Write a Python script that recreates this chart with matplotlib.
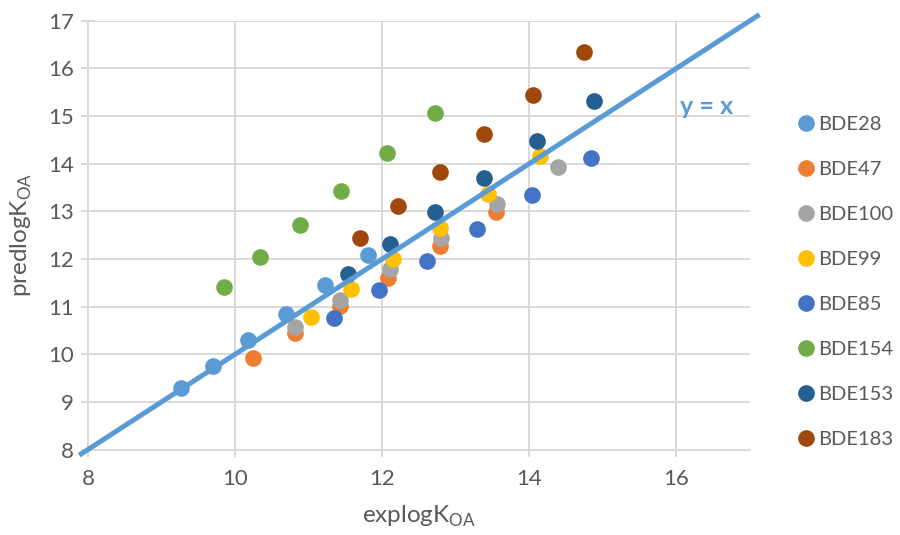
import matplotlib
matplotlib.use('Agg')
import matplotlib.pyplot as plt

plt.rcParams['font.family'] = ['Lato', 'DejaVu Sans']

# ==================== 数据 ====================
series_names = ['BDE28', 'BDE47', 'BDE100', 'BDE99', 'BDE85', 'BDE154', 'BDE153', 'BDE183']
series_colors = ['#5B9BD5', '#ED7D31', '#A5A5A5', '#FFC000', '#4472C4', '#70AD47', '#255E91', '#9E480E']

bde28_x = [9.27, 9.70, 10.18, 10.69, 11.22, 11.81]
bde28_y = [9.30, 9.76, 10.29, 10.85, 11.45, 12.08]
bde47_x = [10.24, 10.81, 11.42, 12.08, 12.78, 13.55]
bde47_y = [9.93, 10.45, 11.02, 11.61, 12.28, 12.99]
bde100_x = [10.82, 11.43, 12.10, 12.80, 13.56, 14.39]
bde100_y = [10.57, 11.14, 11.78, 12.43, 13.15, 13.92]
bde99_x = [11.03, 11.57, 12.15, 12.78, 13.44, 14.15]
bde99_y = [10.78, 11.36, 11.99, 12.64, 13.37, 14.15]
bde85_x = [11.35, 11.96, 12.61, 13.29, 14.04, 14.84]
bde85_y = [10.76, 11.34, 11.96, 12.62, 13.35, 14.12]
bde154_x = [9.85, 10.34, 10.88, 11.44, 12.06, 12.72]
bde154_y = [11.41, 12.04, 12.72, 13.43, 14.22, 15.06]
bde153_x = [11.53, 12.11, 12.72, 13.39, 14.10, 14.88]
bde153_y = [11.69, 12.31, 12.99, 13.70, 14.48, 15.32]
bde183_x = [11.70, 12.22, 12.78, 13.39, 14.05, 14.74]
bde183_y = [12.43, 13.11, 13.83, 14.62, 15.45, 16.35]

all_x = [bde28_x, bde47_x, bde100_x, bde99_x, bde85_x, bde154_x, bde153_x, bde183_x]
all_y = [bde28_y, bde47_y, bde100_y, bde99_y, bde85_y, bde154_y, bde153_y, bde183_y]

# y = x 参考线端点
line_ends = [7.88, 17.13]

# ==================== 绘图 ====================
fig = plt.figure(figsize=(9, 5.35), dpi=100)
ax = fig.add_axes([0.0978, 0.1598, 0.7355, 0.8015])

grid_color = '#D9D9D9'
text_color = '#595959'

for name, c, xs, ys in zip(series_names, series_colors, all_x, all_y):
    ax.plot(xs, ys, linestyle='none', marker='o', markersize=12,
            color=c, markeredgewidth=0, label=name, zorder=3)

ax.plot(line_ends, line_ends, color='#5B9BD5', linewidth=3.6,
        solid_capstyle='butt', clip_on=False, zorder=4)
ax.text(16.41, 15.2, 'y = x', color='#5B9BD5', fontsize=18,
        fontweight='bold', ha='center', va='center')

ax.set_xlim(8, 17)
ax.set_ylim(8, 17)
ax.set_xticks([8, 10, 12, 14, 16])
ax.set_yticks(range(8, 18))
ax.grid(True, color=grid_color, linewidth=1.4)
ax.set_axisbelow(True)

for side in ['top', 'right']:
    ax.spines[side].set_visible(False)
for side in ['left', 'bottom']:
    ax.spines[side].set_color(grid_color)
    ax.spines[side].set_linewidth(1.4)

ax.tick_params(direction='inout', length=10, width=1.4, color=grid_color,
               labelsize=16, labelcolor=text_color)
ax.tick_params(axis='x', pad=9)
ax.tick_params(axis='y', pad=5)

ax.set_xlabel(r'explogK$_{\mathregular{OA}}$', fontsize=17.5, color=text_color, labelpad=11)
ax.set_ylabel(r'predlogK$_{\mathregular{OA}}$', fontsize=17.5, color=text_color, labelpad=10)

leg = ax.legend(loc='upper left', bbox_to_anchor=(1.058, 0.796), frameon=False,
                fontsize=14.5, labelspacing=1.38, handletextpad=0.1,
                handlelength=1.0, borderaxespad=0)
for t in leg.get_texts():
    t.set_color(text_color)

plt.savefig('out.png', dpi=100)
